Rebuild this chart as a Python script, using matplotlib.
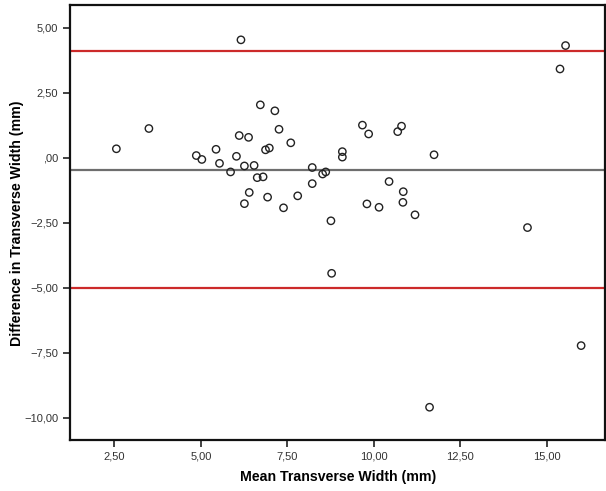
import matplotlib
matplotlib.use("Agg")
from matplotlib import pyplot as plt
from matplotlib.ticker import FuncFormatter

# mean of the two measurements (mm)
mean_width = [
    6.16, 2.56, 3.50, 4.87, 5.03, 5.44, 5.54, 5.86, 6.03, 6.11,
    6.26, 6.38, 6.54, 6.72, 6.63, 6.80, 6.87, 6.98, 7.14, 7.26,
    6.40, 6.26, 6.93, 7.39, 7.60, 7.80, 8.22, 8.22, 8.52, 8.61,
    8.76, 8.78, 15.54, 15.38, 9.09, 9.09, 9.67, 9.85, 10.80, 10.69,
    11.74, 10.44, 10.85, 9.80, 10.15, 10.84, 11.19, 14.44, 15.99, 11.61,
]
# difference between the two measurements (mm)
diff_width = [
    4.54, 0.35, 1.13, 0.09, -0.06, 0.33, -0.21, -0.54, 0.06, 0.86,
    -0.31, 0.79, -0.29, 2.04, -0.76, -0.73, 0.31, 0.38, 1.81, 1.10,
    -1.33, -1.76, -1.51, -1.92, 0.58, -1.46, -0.37, -0.99, -0.62, -0.54,
    -2.42, -4.44, 4.32, 3.42, 0.24, 0.03, 1.26, 0.92, 1.22, 1.01,
    0.12, -0.91, -1.30, -1.77, -1.90, -1.71, -2.19, -2.68, -7.22, -9.59,
]

mean_diff = -0.46
upper_loa = 4.13
lower_loa = -5.02

x_ticks = [2.5, 5.0, 7.5, 10.0, 12.5, 15.0]
y_ticks = [5.0, 2.5, 0.0, -2.5, -5.0, -7.5, -10.0]

plt.rcParams['font.family'] = ['Liberation Sans', 'DejaVu Sans']


def comma_fmt(v, _pos=None):
    s = '{0:.2f}'.format(abs(v)).replace('.', ',')
    if s.startswith('0,'):
        s = s[1:]
    if v < -1e-9:
        s = '\u2212' + s
    return s


fig = plt.figure(figsize=(6.06, 4.91), dpi=100)
ax = fig.add_axes([70 / 606, 51 / 491, 535 / 606, 435 / 491])

ax.axhline(upper_loa, color='#cc2a2a', lw=1.6, zorder=1)
ax.axhline(lower_loa, color='#cc2a2a', lw=1.6, zorder=1)
ax.axhline(mean_diff, color='#6e6e6e', lw=1.6, zorder=1)

ax.scatter(mean_width, diff_width, s=28, facecolors='none',
           edgecolors='#222222', linewidths=1.0, zorder=2)

ax.set_xlim(1.22, 16.68)
ax.set_ylim(-10.85, 5.88)
ax.set_xticks(x_ticks)
ax.set_yticks(y_ticks)
ax.xaxis.set_major_formatter(FuncFormatter(comma_fmt))
ax.yaxis.set_major_formatter(FuncFormatter(comma_fmt))

ax.tick_params(direction='out', length=5, width=1.2, color='#222222',
               labelsize=8, labelcolor='#333333', top=False, right=False)
for side in ['left', 'bottom', 'top', 'right']:
    ax.spines[side].set_linewidth(1.6)
    ax.spines[side].set_color('#111111')

ax.set_xlabel('Mean Transverse Width (mm)', fontsize=10.2, fontweight='bold')
ax.set_ylabel('Difference in Transverse Width (mm)', fontsize=10.2,
              fontweight='bold')
ax.xaxis.set_label_coords(0.502, -0.069)
ax.yaxis.set_label_coords(-0.086, 0.498)

fig.savefig('out.png', dpi=100)
